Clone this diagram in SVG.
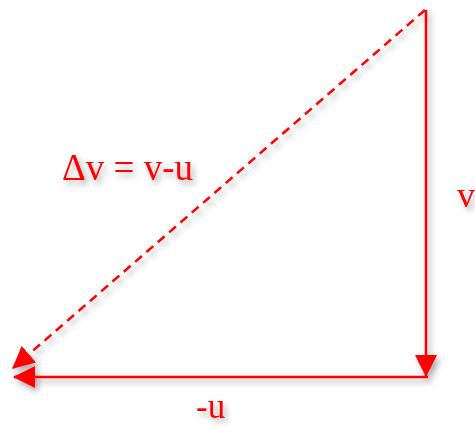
<svg xmlns="http://www.w3.org/2000/svg" width="475" height="427" viewBox="0 0 475 427">
<defs>
<filter id="sh" x="-20%" y="-20%" width="140%" height="140%">
<feDropShadow dx="3" dy="4" stdDeviation="3" flood-color="#000" flood-opacity="0.35"/>
</filter>
<marker id="ah" viewBox="0 0 22 22" refX="21" refY="11" markerWidth="22" markerHeight="22" markerUnits="userSpaceOnUse" orient="auto">
<path d="M0,0 L22,11 L0,22 Z" fill="#ff0000"/>
</marker>
<style>
.ln{stroke:#ff0000;stroke-width:2.5;fill:none}
.dash{stroke-dasharray:9 6}
.lbl{font-family:"Liberation Serif","Times New Roman",serif;fill:#ff0000}
</style>
</defs>
<rect width="475" height="427" fill="#ffffff"/>
<g id="connectors" filter="url(#sh)">
<line class="ln" x1="426" y1="10" x2="426" y2="376" marker-end="url(#ah)"/>
<line class="ln" x1="428" y1="377" x2="14" y2="377" marker-end="url(#ah)"/>
<line class="ln dash" x1="425" y1="10" x2="13" y2="368" marker-end="url(#ah)"/>
</g>
<g id="label-dv" filter="url(#sh)"><text class="lbl" x="62" y="180" font-size="37">Δv = v-u</text></g>
<g id="label-v" filter="url(#sh)"><text class="lbl" x="457" y="207" font-size="36">v</text></g>
<g id="label-u" filter="url(#sh)"><text class="lbl" x="196" y="418" font-size="35">-u</text></g>
</svg>
